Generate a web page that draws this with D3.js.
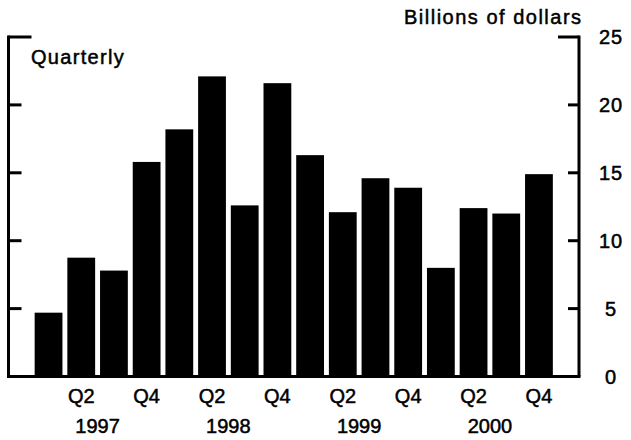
<!DOCTYPE html>
<html>
<head>
<meta charset="utf-8">
<script src="https://cdn.jsdelivr.net/npm/d3@7"></script>
<style>
  body { margin: 0; background: #fff; }
  text { font-family: "Liberation Sans", Arial, sans-serif; fill: #000; stroke: #000; stroke-width: 0.5px; }
</style>
</head>
<body>
<div id="chart"></div>
<script>
// quarterly data, 1997 Q1 .. 2000 Q4
const quarters = ['1997Q1','1997Q2','1997Q3','1997Q4','1998Q1','1998Q2','1998Q3','1998Q4',
                  '1999Q1','1999Q2','1999Q3','1999Q4','2000Q1','2000Q2','2000Q3','2000Q4'];
const values = [4.7, 8.75, 7.8, 15.8, 18.2, 22.1, 12.6, 21.6, 16.3, 12.1, 14.6, 13.9, 8.0, 12.4, 12.0, 14.9];
const years = ['1997', '1998', '1999', '2000'];
const yTicks = [0, 5, 10, 15, 20, 25];

const width = 631, height = 440;
const plot = {left: 8.5, right: 579, top: 37, bottom: 376.5};

const svg = d3.select('#chart').append('svg')
    .attr('width', width)
    .attr('height', height);

const x = d3.scaleBand()
    .domain(quarters)
    .range([plot.left, plot.right])
    .paddingInner(0.15)
    .paddingOuter(0.8);

const y = d3.scaleLinear()
    .domain([0, 25])
    .range([plot.bottom, plot.top]);

// bars
svg.selectAll('.bar')
    .data(values)
    .enter().append('rect')
    .attr('class', 'bar')
    .attr('x', (d, i) => x(quarters[i]))
    .attr('y', d => y(d))
    .attr('width', x.bandwidth())
    .attr('height', d => y(0) - y(d))
    .attr('fill', '#000');

// frame: left, right, bottom
const frame = svg.append('g').attr('stroke', '#000').attr('stroke-width', 3).attr('fill', 'none');
frame.append('line').attr('x1', plot.left).attr('x2', plot.left).attr('y1', y(25) - 1.5).attr('y2', y(0));
frame.append('line').attr('x1', plot.right).attr('x2', plot.right).attr('y1', y(25) - 1.5).attr('y2', y(0));
frame.append('line').attr('x1', plot.left - 1.5).attr('x2', plot.right + 1.5).attr('y1', y(0)).attr('y2', y(0));

// inward ticks on both sides, longer at the top
frame.selectAll('.ltick')
    .data(yTicks.filter(d => d > 0))
    .enter().append('line')
    .attr('x1', plot.left)
    .attr('x2', d => d === 25 ? plot.left + 23 : plot.left + 13)
    .attr('y1', d => y(d))
    .attr('y2', d => y(d));

frame.selectAll('.rtick')
    .data(yTicks.filter(d => d > 0))
    .enter().append('line')
    .attr('x1', plot.right)
    .attr('x2', d => d === 25 ? plot.right - 21 : plot.right - 11)
    .attr('y1', d => y(d))
    .attr('y2', d => y(d));

// right tick labels
svg.selectAll('.ylab')
    .data(yTicks)
    .enter().append('text')
    .attr('x', 611)
    .attr('y', d => y(d))
    .attr('dy', '0.36em')
    .attr('text-anchor', 'middle')
    .style('font-size', '20px')
    .style('letter-spacing', '1px')
    .text(d => d);

// quarter labels under Q2 and Q4
svg.selectAll('.qlab')
    .data(quarters.filter(q => q.endsWith('Q2') || q.endsWith('Q4')))
    .enter().append('text')
    .attr('x', d => x(d) + x.bandwidth() / 2)
    .attr('y', 403)
    .attr('text-anchor', 'middle')
    .style('font-size', '20px')
    .text(d => d.slice(4));

// year labels, centred on each year's four bars
svg.selectAll('.yrlab')
    .data(years)
    .enter().append('text')
    .attr('x', d => (x(d + 'Q1') + x(d + 'Q4') + x.bandwidth()) / 2)
    .attr('y', 433)
    .attr('text-anchor', 'middle')
    .style('font-size', '20px')
    .text(d => d);

svg.append('text')
    .attr('x', 31)
    .attr('y', 64)
    .style('font-size', '20px')
    .style('letter-spacing', '1.3px')
    .text('Quarterly');

svg.append('text')
    .attr('x', 404)
    .attr('y', 23.5)
    .style('font-size', '20px')
    .style('letter-spacing', '1.5px')
    .text('Billions of dollars');
</script>
</body>
</html>
